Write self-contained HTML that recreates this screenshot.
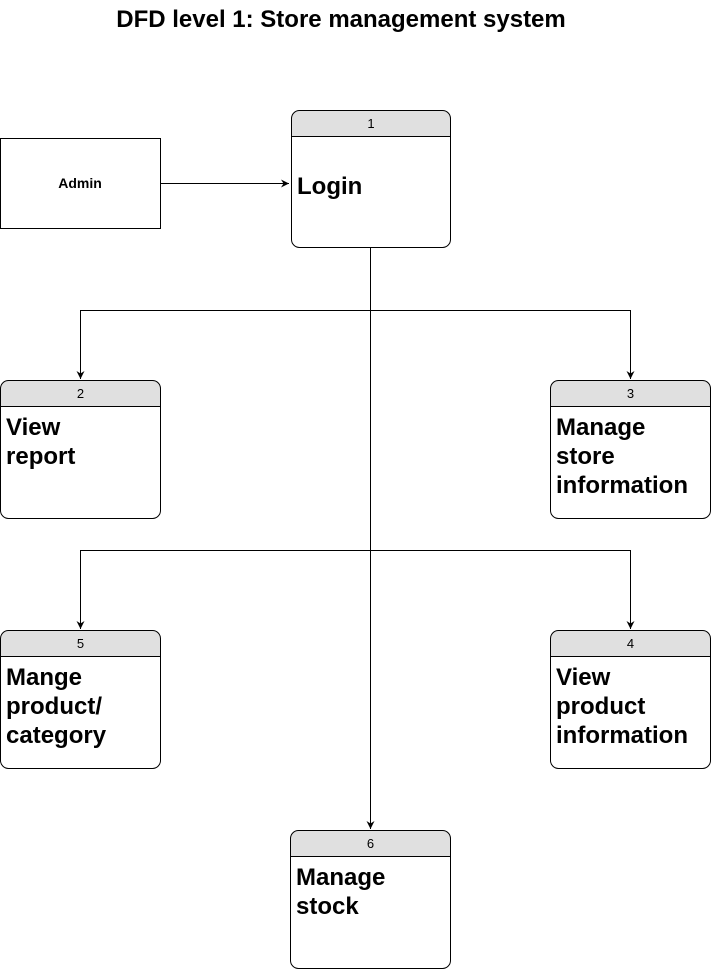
<!DOCTYPE html>
<html><head><meta charset="utf-8">
<style>
html,body{margin:0;padding:0;background:#fff;}
svg{display:block;}
text{font-family:"Liberation Sans",Arial,sans-serif;}
.t{font-size:24px;font-weight:bold;fill:#000;}
.h{font-size:13px;fill:#000;}
</style></head><body>
<svg width="712" height="970" viewBox="0 0 712 970" xmlns="http://www.w3.org/2000/svg">
<defs>
<marker id="a" markerWidth="10" markerHeight="10" refX="8" refY="4.5" orient="auto" markerUnits="userSpaceOnUse">
<path d="M0,0.5 L8,4.5 L0,8.5 L2.5,4.5 Z" fill="#000"/>
</marker>
</defs>
<text x="341" y="27" text-anchor="middle" style="font-size:24px;font-weight:bold">DFD level 1: Store management system</text>

<rect x="0.5" y="138.5" width="160" height="90" fill="#fff" stroke="#000"/>
<text x="80" y="188" text-anchor="middle" style="font-size:14px;font-weight:bold">Admin</text>

<g fill="none" stroke="#000" stroke-width="1">
<path d="M160.5 183.5 H289" marker-end="url(#a)"/>
<path d="M370.5 248 V829" marker-end="url(#a)"/>
<path d="M80.5 379 V310.5 H630.5 V379" marker-end="url(#a)"/>
<path d="M80.5 310.5 V379" marker-end="url(#a)"/>
<path d="M80.5 629 V550.5 H630.5 V629" marker-end="url(#a)"/>
<path d="M80.5 550.5 V629" marker-end="url(#a)"/>
</g>

<g>
<path d="M291.5 136.5 V118.5 Q291.5 110.5 299.5 110.5 H442.5 Q450.5 110.5 450.5 118.5 V136.5 Z" fill="#e0e0e0"/>
<rect x="291.5" y="110.5" width="159" height="137" rx="8" fill="none" stroke="#000"/>
<line x1="291.5" y1="136.5" x2="450.5" y2="136.5" stroke="#000"/>
<text class="h" x="371" y="128" text-anchor="middle">1</text>
<text class="t" x="297" y="194">Login</text>
</g>

<g>
<path d="M0.5 406.5 V388.5 Q0.5 380.5 8.5 380.5 H152.5 Q160.5 380.5 160.5 388.5 V406.5 Z" fill="#e0e0e0"/>
<rect x="0.5" y="380.5" width="160" height="138" rx="8" fill="none" stroke="#000"/>
<line x1="0.5" y1="406.5" x2="160.5" y2="406.5" stroke="#000"/>
<text class="h" x="80.5" y="398" text-anchor="middle">2</text>
<text class="t" x="6" y="435">View</text>
<text class="t" x="6" y="464">report</text>
</g>

<g>
<path d="M550.5 406.5 V388.5 Q550.5 380.5 558.5 380.5 H702.5 Q710.5 380.5 710.5 388.5 V406.5 Z" fill="#e0e0e0"/>
<rect x="550.5" y="380.5" width="160" height="138" rx="8" fill="none" stroke="#000"/>
<line x1="550.5" y1="406.5" x2="710.5" y2="406.5" stroke="#000"/>
<text class="h" x="630.5" y="398" text-anchor="middle">3</text>
<text class="t" x="556" y="435">Manage</text>
<text class="t" x="556" y="464">store</text>
<text class="t" x="556" y="493">information</text>
</g>

<g>
<path d="M0.5 656.5 V638.5 Q0.5 630.5 8.5 630.5 H152.5 Q160.5 630.5 160.5 638.5 V656.5 Z" fill="#e0e0e0"/>
<rect x="0.5" y="630.5" width="160" height="138" rx="8" fill="none" stroke="#000"/>
<line x1="0.5" y1="656.5" x2="160.5" y2="656.5" stroke="#000"/>
<text class="h" x="80.5" y="648" text-anchor="middle">5</text>
<text class="t" x="6" y="685">Mange</text>
<text class="t" x="6" y="714">product/</text>
<text class="t" x="6" y="743">category</text>
</g>

<g>
<path d="M550.5 656.5 V638.5 Q550.5 630.5 558.5 630.5 H702.5 Q710.5 630.5 710.5 638.5 V656.5 Z" fill="#e0e0e0"/>
<rect x="550.5" y="630.5" width="160" height="138" rx="8" fill="none" stroke="#000"/>
<line x1="550.5" y1="656.5" x2="710.5" y2="656.5" stroke="#000"/>
<text class="h" x="630.5" y="648" text-anchor="middle">4</text>
<text class="t" x="556" y="685">View</text>
<text class="t" x="556" y="714">product</text>
<text class="t" x="556" y="743">information</text>
</g>

<g>
<path d="M290.5 856.5 V838.5 Q290.5 830.5 298.5 830.5 H442.5 Q450.5 830.5 450.5 838.5 V856.5 Z" fill="#e0e0e0"/>
<rect x="290.5" y="830.5" width="160" height="138" rx="8" fill="none" stroke="#000"/>
<line x1="290.5" y1="856.5" x2="450.5" y2="856.5" stroke="#000"/>
<text class="h" x="370.5" y="848" text-anchor="middle">6</text>
<text class="t" x="296" y="885">Manage</text>
<text class="t" x="296" y="914">stock</text>
</g>
</svg>
</body></html>
